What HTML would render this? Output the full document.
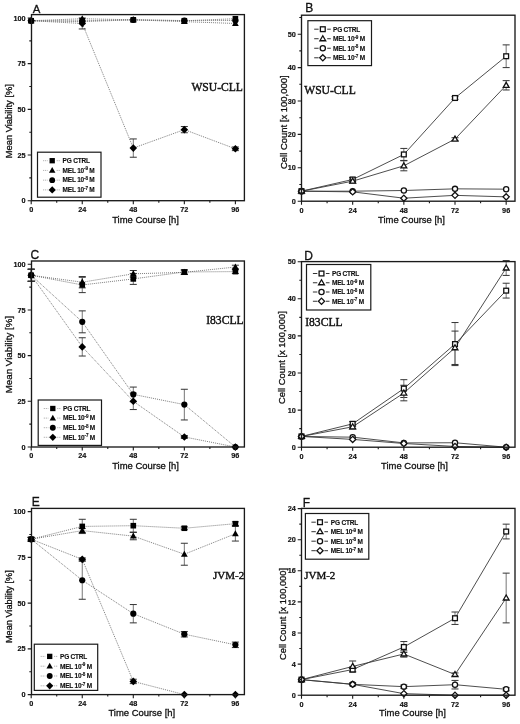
<!DOCTYPE html>
<html><head><meta charset="utf-8"><title>Figure</title>
<style>
html,body{margin:0;padding:0;background:#fff;}
body{width:520px;height:724px;overflow:hidden;font-family:"Liberation Sans",sans-serif;}
svg{display:block;will-change:transform;}
</style></head>
<body>
<svg width="520" height="724" viewBox="0 0 520 724">
<rect width="520" height="724" fill="#fff"/>
<polyline points="31.2,20.74 82.25,20.74 133.3,19.83 184.34,20.74 235.39,18.73" fill="none" stroke="#6e6e6e" stroke-width="0.9" stroke-dasharray="1 1"/>
<polyline points="31.2,20.74 82.25,18.73 133.3,19.83 184.34,21.65 235.39,23.48" fill="none" stroke="#6e6e6e" stroke-width="0.9" stroke-dasharray="1 1"/>
<polyline points="31.2,20.74 82.25,21.65 133.3,19.83 184.34,20.56 235.39,20.56" fill="none" stroke="#6e6e6e" stroke-width="0.9" stroke-dasharray="1 1"/>
<polyline points="31.2,20.74 82.25,23.48 133.3,148.08 184.34,129.63 235.39,148.81" fill="none" stroke="#6e6e6e" stroke-width="0.9" stroke-dasharray="1 1"/>
<path d="M82.25 18V28.96" stroke="#666" stroke-width="0.9" fill="none"/>
<path d="M78.75 18H85.75M78.75 28.96H85.75" stroke="#333" stroke-width="1" fill="none"/>
<path d="M133.3 138.95V157.22" stroke="#666" stroke-width="0.9" fill="none"/>
<path d="M129.8 138.95H136.8M129.8 157.22H136.8" stroke="#333" stroke-width="1" fill="none"/>
<path d="M184.34 126.52V132.74" stroke="#666" stroke-width="0.9" fill="none"/>
<path d="M180.84 126.52H187.84M180.84 132.74H187.84" stroke="#333" stroke-width="1" fill="none"/>
<path d="M235.39 146.99V150.64" stroke="#666" stroke-width="0.9" fill="none"/>
<path d="M231.89 146.99H238.89M231.89 150.64H238.89" stroke="#333" stroke-width="1" fill="none"/>
<rect x="28.4" y="17.94" width="5.6" height="5.6" fill="#000" stroke="none" stroke-width="0"/>
<rect x="79.45" y="17.94" width="5.6" height="5.6" fill="#000" stroke="none" stroke-width="0"/>
<rect x="130.5" y="17.03" width="5.6" height="5.6" fill="#000" stroke="none" stroke-width="0"/>
<rect x="181.54" y="17.94" width="5.6" height="5.6" fill="#000" stroke="none" stroke-width="0"/>
<rect x="232.59" y="15.93" width="5.6" height="5.6" fill="#000" stroke="none" stroke-width="0"/>
<polygon points="31.2,17.14 34.6,23.14 27.8,23.14" fill="#000" stroke="none" stroke-width="0" stroke-linejoin="miter"/>
<polygon points="82.25,15.13 85.65,21.13 78.85,21.13" fill="#000" stroke="none" stroke-width="0" stroke-linejoin="miter"/>
<polygon points="133.3,16.23 136.7,22.23 129.9,22.23" fill="#000" stroke="none" stroke-width="0" stroke-linejoin="miter"/>
<polygon points="184.34,18.05 187.74,24.05 180.94,24.05" fill="#000" stroke="none" stroke-width="0" stroke-linejoin="miter"/>
<polygon points="235.39,19.88 238.79,25.88 231.99,25.88" fill="#000" stroke="none" stroke-width="0" stroke-linejoin="miter"/>
<circle cx="31.2" cy="20.74" r="3.1" fill="#000" stroke="none" stroke-width="0"/>
<circle cx="82.25" cy="21.65" r="3.1" fill="#000" stroke="none" stroke-width="0"/>
<circle cx="133.3" cy="19.83" r="3.1" fill="#000" stroke="none" stroke-width="0"/>
<circle cx="184.34" cy="20.56" r="3.1" fill="#000" stroke="none" stroke-width="0"/>
<circle cx="235.39" cy="20.56" r="3.1" fill="#000" stroke="none" stroke-width="0"/>
<polygon points="31.2,16.94 35,20.74 31.2,24.54 27.4,20.74" fill="#000" stroke="none" stroke-width="0"/>
<polygon points="82.25,19.68 86.05,23.48 82.25,27.28 78.45,23.48" fill="#000" stroke="none" stroke-width="0"/>
<polygon points="133.3,144.28 137.1,148.08 133.3,151.88 129.5,148.08" fill="#000" stroke="none" stroke-width="0"/>
<polygon points="184.34,125.83 188.14,129.63 184.34,133.43 180.54,129.63" fill="#000" stroke="none" stroke-width="0"/>
<polygon points="235.39,145.01 239.19,148.81 235.39,152.61 231.59,148.81" fill="#000" stroke="none" stroke-width="0"/>
<rect x="31.5" y="14.6" width="212.9" height="186.1" fill="none" stroke="#1a1a1a" stroke-width="1.35"/>
<path d="M27.7 200.7H31.5M27.7 155.02H31.5M27.7 109.35H31.5M27.7 63.67H31.5M27.7 18H31.5M29.3 177.86H31.5M29.3 132.19H31.5M29.3 86.51H31.5M29.3 40.84H31.5M31.2 200.7V204.3M82.25 200.7V204.3M133.3 200.7V204.3M184.34 200.7V204.3M235.39 200.7V204.3M56.72 200.7V202.7M107.77 200.7V202.7M158.82 200.7V202.7M209.87 200.7V202.7" stroke="#1a1a1a" stroke-width="1.1" fill="none"/>
<text x="25.6" y="203.3" font-family="Liberation Sans, sans-serif" font-size="7.3" font-weight="bold" text-anchor="end" fill="#111" stroke="#111" stroke-width="0.15">0</text>
<text x="25.6" y="157.62" font-family="Liberation Sans, sans-serif" font-size="7.3" font-weight="bold" text-anchor="end" fill="#111" stroke="#111" stroke-width="0.15">25</text>
<text x="25.6" y="111.95" font-family="Liberation Sans, sans-serif" font-size="7.3" font-weight="bold" text-anchor="end" fill="#111" stroke="#111" stroke-width="0.15">50</text>
<text x="25.6" y="66.27" font-family="Liberation Sans, sans-serif" font-size="7.3" font-weight="bold" text-anchor="end" fill="#111" stroke="#111" stroke-width="0.15">75</text>
<text x="25.6" y="20.6" font-family="Liberation Sans, sans-serif" font-size="7.3" font-weight="bold" text-anchor="end" fill="#111" stroke="#111" stroke-width="0.15">100</text>
<text x="31.2" y="212" font-family="Liberation Sans, sans-serif" font-size="7.3" font-weight="bold" text-anchor="middle" fill="#111" stroke="#111" stroke-width="0.15">0</text>
<text x="82.25" y="212" font-family="Liberation Sans, sans-serif" font-size="7.3" font-weight="bold" text-anchor="middle" fill="#111" stroke="#111" stroke-width="0.15">24</text>
<text x="133.3" y="212" font-family="Liberation Sans, sans-serif" font-size="7.3" font-weight="bold" text-anchor="middle" fill="#111" stroke="#111" stroke-width="0.15">48</text>
<text x="184.34" y="212" font-family="Liberation Sans, sans-serif" font-size="7.3" font-weight="bold" text-anchor="middle" fill="#111" stroke="#111" stroke-width="0.15">72</text>
<text x="235.39" y="212" font-family="Liberation Sans, sans-serif" font-size="7.3" font-weight="bold" text-anchor="middle" fill="#111" stroke="#111" stroke-width="0.15">96</text>
<text x="145.6" y="222.8" font-family="Liberation Sans, sans-serif" font-size="9.45" text-anchor="middle" fill="#111" stroke="#111" stroke-width="0.3">Time Course [h]</text>
<text transform="translate(12.1 121.2) rotate(-90)" font-family="Liberation Sans, sans-serif" font-size="9.37" text-anchor="middle" fill="#111" stroke="#111" stroke-width="0.3">Mean Viability [%]</text>
<text x="32.7" y="12.6" font-family="Liberation Sans, sans-serif" font-size="11.4" fill="#111" stroke="#111" stroke-width="0.3">A</text>
<text x="191.4" y="91.2" font-family="Liberation Serif, serif" font-size="11.6" fill="#111" stroke="#111" stroke-width="0.4">WSU-CLL</text>
<rect x="37.5" y="152.2" width="63.5" height="45" fill="#fff" stroke="#1a1a1a" stroke-width="1.2"/>
<path d="M43.2 160.7H47.7M56.7 160.7H59.7" stroke="#999" stroke-width="0.9" stroke-dasharray="1 1" fill="none"/>
<rect x="49.54" y="158.04" width="5.32" height="5.32" fill="#000" stroke="none" stroke-width="0"/>
<text x="62.6" y="163" font-family="Liberation Sans, sans-serif" font-size="6.5" letter-spacing="-0.2" font-weight="bold" fill="#111" stroke="#111" stroke-width="0.12">PG CTRL</text>
<path d="M43.2 170.43H47.7M56.7 170.43H59.7" stroke="#999" stroke-width="0.9" stroke-dasharray="1 1" fill="none"/>
<polygon points="52.2,167.01 55.43,172.71 48.97,172.71" fill="#000" stroke="none" stroke-width="0" stroke-linejoin="miter"/>
<text x="62.6" y="172.73" font-family="Liberation Sans, sans-serif" font-size="6.5" letter-spacing="-0.2" font-weight="bold" fill="#111" stroke="#111" stroke-width="0.12">MEL 10<tspan font-size="4.6" dy="-2.5">-9</tspan><tspan dy="2.5"> M</tspan></text>
<path d="M43.2 180.16H47.7M56.7 180.16H59.7" stroke="#999" stroke-width="0.9" stroke-dasharray="1 1" fill="none"/>
<circle cx="52.2" cy="180.16" r="2.94" fill="#000" stroke="none" stroke-width="0"/>
<text x="62.6" y="182.46" font-family="Liberation Sans, sans-serif" font-size="6.5" letter-spacing="-0.2" font-weight="bold" fill="#111" stroke="#111" stroke-width="0.12">MEL 10<tspan font-size="4.6" dy="-2.5">-8</tspan><tspan dy="2.5"> M</tspan></text>
<path d="M43.2 189.89H47.7M56.7 189.89H59.7" stroke="#999" stroke-width="0.9" stroke-dasharray="1 1" fill="none"/>
<polygon points="52.2,186.28 55.81,189.89 52.2,193.5 48.59,189.89" fill="#000" stroke="none" stroke-width="0"/>
<text x="62.6" y="192.19" font-family="Liberation Sans, sans-serif" font-size="6.5" letter-spacing="-0.2" font-weight="bold" fill="#111" stroke="#111" stroke-width="0.12">MEL 10<tspan font-size="4.6" dy="-2.5">-7</tspan><tspan dy="2.5"> M</tspan></text>
<polyline points="301.5,191.18 352.67,179.49 403.84,154.44 455,97.99 506.17,56.24" fill="none" stroke="#3a3a3a" stroke-width="0.9"/>
<polyline points="301.5,191.18 352.67,181.16 403.84,165.8 455,139.08 506.17,85.3" fill="none" stroke="#3a3a3a" stroke-width="0.9"/>
<polyline points="301.5,191.18 352.67,191.18 403.84,190.51 455,188.84 506.17,189.18" fill="none" stroke="#3a3a3a" stroke-width="0.9"/>
<polyline points="301.5,191.18 352.67,191.85 403.84,198.19 455,195.35 506.17,196.86" fill="none" stroke="#3a3a3a" stroke-width="0.9"/>
<path d="M352.67 177.49V181.49" stroke="#666" stroke-width="0.9" fill="none"/>
<path d="M349.17 177.49H356.17M349.17 181.49H356.17" stroke="#333" stroke-width="1" fill="none"/>
<path d="M403.84 148.43V160.45" stroke="#666" stroke-width="0.9" fill="none"/>
<path d="M400.34 148.43H407.34M400.34 160.45H407.34" stroke="#333" stroke-width="1" fill="none"/>
<path d="M455 96.66V99.33" stroke="#666" stroke-width="0.9" fill="none"/>
<path d="M451.5 96.66H458.5M451.5 99.33H458.5" stroke="#333" stroke-width="1" fill="none"/>
<path d="M506.17 44.89V67.6" stroke="#666" stroke-width="0.9" fill="none"/>
<path d="M502.67 44.89H509.67M502.67 67.6H509.67" stroke="#333" stroke-width="1" fill="none"/>
<path d="M352.67 179.16V183.16" stroke="#666" stroke-width="0.9" fill="none"/>
<path d="M349.17 179.16H356.17M349.17 183.16H356.17" stroke="#333" stroke-width="1" fill="none"/>
<path d="M403.84 160.79V170.81" stroke="#666" stroke-width="0.9" fill="none"/>
<path d="M400.34 160.79H407.34M400.34 170.81H407.34" stroke="#333" stroke-width="1" fill="none"/>
<path d="M455 137.74V140.41" stroke="#666" stroke-width="0.9" fill="none"/>
<path d="M451.5 137.74H458.5M451.5 140.41H458.5" stroke="#333" stroke-width="1" fill="none"/>
<path d="M506.17 80.63V89.98" stroke="#666" stroke-width="0.9" fill="none"/>
<path d="M502.67 80.63H509.67M502.67 89.98H509.67" stroke="#333" stroke-width="1" fill="none"/>
<rect x="299.1" y="188.78" width="4.8" height="4.8" fill="#fff" stroke="#111" stroke-width="1.3"/>
<rect x="350.27" y="177.09" width="4.8" height="4.8" fill="#fff" stroke="#111" stroke-width="1.3"/>
<rect x="401.44" y="152.04" width="4.8" height="4.8" fill="#fff" stroke="#111" stroke-width="1.3"/>
<rect x="452.6" y="95.59" width="4.8" height="4.8" fill="#fff" stroke="#111" stroke-width="1.3"/>
<rect x="503.77" y="53.84" width="4.8" height="4.8" fill="#fff" stroke="#111" stroke-width="1.3"/>
<polygon points="301.5,188.18 304.4,193.18 298.6,193.18" fill="#fff" stroke="#111" stroke-width="1.3" stroke-linejoin="miter"/>
<polygon points="352.67,178.16 355.57,183.16 349.77,183.16" fill="#fff" stroke="#111" stroke-width="1.3" stroke-linejoin="miter"/>
<polygon points="403.84,162.8 406.74,167.8 400.94,167.8" fill="#fff" stroke="#111" stroke-width="1.3" stroke-linejoin="miter"/>
<polygon points="455,136.08 457.9,141.08 452.1,141.08" fill="#fff" stroke="#111" stroke-width="1.3" stroke-linejoin="miter"/>
<polygon points="506.17,82.3 509.07,87.3 503.27,87.3" fill="#fff" stroke="#111" stroke-width="1.3" stroke-linejoin="miter"/>
<circle cx="301.5" cy="191.18" r="2.6" fill="#fff" stroke="#111" stroke-width="1.3"/>
<circle cx="352.67" cy="191.18" r="2.6" fill="#fff" stroke="#111" stroke-width="1.3"/>
<circle cx="403.84" cy="190.51" r="2.6" fill="#fff" stroke="#111" stroke-width="1.3"/>
<circle cx="455" cy="188.84" r="2.6" fill="#fff" stroke="#111" stroke-width="1.3"/>
<circle cx="506.17" cy="189.18" r="2.6" fill="#fff" stroke="#111" stroke-width="1.3"/>
<polygon points="301.5,188.08 304.6,191.18 301.5,194.28 298.4,191.18" fill="#fff" stroke="#111" stroke-width="1.3"/>
<polygon points="352.67,188.75 355.77,191.85 352.67,194.95 349.57,191.85" fill="#fff" stroke="#111" stroke-width="1.3"/>
<polygon points="403.84,195.09 406.94,198.19 403.84,201.29 400.74,198.19" fill="#fff" stroke="#111" stroke-width="1.3"/>
<polygon points="455,192.25 458.1,195.35 455,198.45 451.9,195.35" fill="#fff" stroke="#111" stroke-width="1.3"/>
<polygon points="506.17,193.76 509.27,196.86 506.17,199.96 503.07,196.86" fill="#fff" stroke="#111" stroke-width="1.3"/>
<rect x="301.5" y="15.2" width="213.5" height="186" fill="none" stroke="#1a1a1a" stroke-width="1.35"/>
<path d="M297.7 201.2H301.5M297.7 167.8H301.5M297.7 134.4H301.5M297.7 101H301.5M297.7 67.6H301.5M297.7 34.2H301.5M299.3 184.5H301.5M299.3 151.1H301.5M299.3 117.7H301.5M299.3 84.3H301.5M299.3 50.9H301.5M299.3 17.5H301.5M301.5 201.2V204.8M352.67 201.2V204.8M403.84 201.2V204.8M455 201.2V204.8M506.17 201.2V204.8M327.08 201.2V203.2M378.25 201.2V203.2M429.42 201.2V203.2M480.59 201.2V203.2" stroke="#1a1a1a" stroke-width="1.1" fill="none"/>
<text x="295.9" y="203.8" font-family="Liberation Sans, sans-serif" font-size="7.3" font-weight="bold" text-anchor="end" fill="#111" stroke="#111" stroke-width="0.15">0</text>
<text x="295.9" y="170.4" font-family="Liberation Sans, sans-serif" font-size="7.3" font-weight="bold" text-anchor="end" fill="#111" stroke="#111" stroke-width="0.15">10</text>
<text x="295.9" y="137" font-family="Liberation Sans, sans-serif" font-size="7.3" font-weight="bold" text-anchor="end" fill="#111" stroke="#111" stroke-width="0.15">20</text>
<text x="295.9" y="103.6" font-family="Liberation Sans, sans-serif" font-size="7.3" font-weight="bold" text-anchor="end" fill="#111" stroke="#111" stroke-width="0.15">30</text>
<text x="295.9" y="70.2" font-family="Liberation Sans, sans-serif" font-size="7.3" font-weight="bold" text-anchor="end" fill="#111" stroke="#111" stroke-width="0.15">40</text>
<text x="295.9" y="36.8" font-family="Liberation Sans, sans-serif" font-size="7.3" font-weight="bold" text-anchor="end" fill="#111" stroke="#111" stroke-width="0.15">50</text>
<text x="301.5" y="212.5" font-family="Liberation Sans, sans-serif" font-size="7.3" font-weight="bold" text-anchor="middle" fill="#111" stroke="#111" stroke-width="0.15">0</text>
<text x="352.67" y="212.5" font-family="Liberation Sans, sans-serif" font-size="7.3" font-weight="bold" text-anchor="middle" fill="#111" stroke="#111" stroke-width="0.15">24</text>
<text x="403.84" y="212.5" font-family="Liberation Sans, sans-serif" font-size="7.3" font-weight="bold" text-anchor="middle" fill="#111" stroke="#111" stroke-width="0.15">48</text>
<text x="455" y="212.5" font-family="Liberation Sans, sans-serif" font-size="7.3" font-weight="bold" text-anchor="middle" fill="#111" stroke="#111" stroke-width="0.15">72</text>
<text x="506.17" y="212.5" font-family="Liberation Sans, sans-serif" font-size="7.3" font-weight="bold" text-anchor="middle" fill="#111" stroke="#111" stroke-width="0.15">96</text>
<text x="411.5" y="223.3" font-family="Liberation Sans, sans-serif" font-size="9.45" text-anchor="middle" fill="#111" stroke="#111" stroke-width="0.3">Time Course [h]</text>
<text transform="translate(286.9 122.2) rotate(-90)" font-family="Liberation Sans, sans-serif" font-size="9.48" text-anchor="middle" fill="#111" stroke="#111" stroke-width="0.3">Cell Count [x 100,000]</text>
<text x="305.3" y="12.3" font-family="Liberation Sans, sans-serif" font-size="12" fill="#111" stroke="#111" stroke-width="0.3">B</text>
<text x="304.2" y="94" font-family="Liberation Serif, serif" font-size="11.6" fill="#111" stroke="#111" stroke-width="0.4">WSU-CLL</text>
<rect x="307.9" y="20.7" width="63.6" height="44.9" fill="#fff" stroke="#1a1a1a" stroke-width="1.2"/>
<path d="M314.2 29.2H318.6M327.2 29.2H330.8" stroke="#333" stroke-width="1" fill="none"/>
<rect x="320.4" y="26.8" width="4.8" height="4.8" fill="#fff" stroke="#111" stroke-width="1.3"/>
<text x="333" y="31.5" font-family="Liberation Sans, sans-serif" font-size="6.5" letter-spacing="-0.2" font-weight="bold" fill="#111" stroke="#111" stroke-width="0.12">PG CTRL</text>
<path d="M314.2 38.73H318.6M327.2 38.73H330.8" stroke="#333" stroke-width="1" fill="none"/>
<polygon points="322.8,35.73 325.7,40.73 319.9,40.73" fill="#fff" stroke="#111" stroke-width="1.3" stroke-linejoin="miter"/>
<text x="333" y="41.03" font-family="Liberation Sans, sans-serif" font-size="6.5" letter-spacing="-0.2" font-weight="bold" fill="#111" stroke="#111" stroke-width="0.12">MEL 10<tspan font-size="4.6" dy="-2.5">-9</tspan><tspan dy="2.5"> M</tspan></text>
<path d="M314.2 48.26H318.6M327.2 48.26H330.8" stroke="#333" stroke-width="1" fill="none"/>
<circle cx="322.8" cy="48.26" r="2.6" fill="#fff" stroke="#111" stroke-width="1.3"/>
<text x="333" y="50.56" font-family="Liberation Sans, sans-serif" font-size="6.5" letter-spacing="-0.2" font-weight="bold" fill="#111" stroke="#111" stroke-width="0.12">MEL 10<tspan font-size="4.6" dy="-2.5">-8</tspan><tspan dy="2.5"> M</tspan></text>
<path d="M314.2 57.79H318.6M327.2 57.79H330.8" stroke="#333" stroke-width="1" fill="none"/>
<polygon points="322.8,54.69 325.9,57.79 322.8,60.89 319.7,57.79" fill="#fff" stroke="#111" stroke-width="1.3"/>
<text x="333" y="60.09" font-family="Liberation Sans, sans-serif" font-size="6.5" letter-spacing="-0.2" font-weight="bold" fill="#111" stroke="#111" stroke-width="0.12">MEL 10<tspan font-size="4.6" dy="-2.5">-7</tspan><tspan dy="2.5"> M</tspan></text>
<polyline points="31.2,275.26 82.25,284.95 133.3,278.92 184.34,271.97 235.39,271.61" fill="none" stroke="#6e6e6e" stroke-width="0.9" stroke-dasharray="1 1"/>
<polyline points="31.2,275.26 82.25,282.2 133.3,273.8 184.34,272.34 235.39,267.04" fill="none" stroke="#6e6e6e" stroke-width="0.9" stroke-dasharray="1 1"/>
<polyline points="31.2,275.26 82.25,321.85 133.3,394.38 184.34,404.61 235.39,447" fill="none" stroke="#6e6e6e" stroke-width="0.9" stroke-dasharray="1 1"/>
<polyline points="31.2,275.26 82.25,346.88 133.3,401.32 184.34,436.95 235.39,447" fill="none" stroke="#6e6e6e" stroke-width="0.9" stroke-dasharray="1 1"/>
<path d="M31.2 269.23V281.29" stroke="#666" stroke-width="0.9" fill="none"/>
<path d="M27.7 269.23H34.7M27.7 281.29H34.7" stroke="#333" stroke-width="1" fill="none"/>
<path d="M82.25 277.27V292.62" stroke="#666" stroke-width="0.9" fill="none"/>
<path d="M78.75 277.27H85.75M78.75 292.62H85.75" stroke="#333" stroke-width="1" fill="none"/>
<path d="M133.3 273.44V284.4" stroke="#666" stroke-width="0.9" fill="none"/>
<path d="M129.8 273.44H136.8M129.8 284.4H136.8" stroke="#333" stroke-width="1" fill="none"/>
<path d="M184.34 269.78V274.17" stroke="#666" stroke-width="0.9" fill="none"/>
<path d="M180.84 269.78H187.84M180.84 274.17H187.84" stroke="#333" stroke-width="1" fill="none"/>
<path d="M235.39 269.78V273.44" stroke="#666" stroke-width="0.9" fill="none"/>
<path d="M231.89 269.78H238.89M231.89 273.44H238.89" stroke="#333" stroke-width="1" fill="none"/>
<path d="M31.2 269.23V281.29" stroke="#666" stroke-width="0.9" fill="none"/>
<path d="M27.7 269.23H34.7M27.7 281.29H34.7" stroke="#333" stroke-width="1" fill="none"/>
<path d="M82.25 276.54V287.87" stroke="#666" stroke-width="0.9" fill="none"/>
<path d="M78.75 276.54H85.75M78.75 287.87H85.75" stroke="#333" stroke-width="1" fill="none"/>
<path d="M133.3 270.51V277.09" stroke="#666" stroke-width="0.9" fill="none"/>
<path d="M129.8 270.51H136.8M129.8 277.09H136.8" stroke="#333" stroke-width="1" fill="none"/>
<path d="M184.34 270.15V274.53" stroke="#666" stroke-width="0.9" fill="none"/>
<path d="M180.84 270.15H187.84M180.84 274.53H187.84" stroke="#333" stroke-width="1" fill="none"/>
<path d="M235.39 265.21V268.87" stroke="#666" stroke-width="0.9" fill="none"/>
<path d="M231.89 265.21H238.89M231.89 268.87H238.89" stroke="#333" stroke-width="1" fill="none"/>
<path d="M31.2 269.23V281.29" stroke="#666" stroke-width="0.9" fill="none"/>
<path d="M27.7 269.23H34.7M27.7 281.29H34.7" stroke="#333" stroke-width="1" fill="none"/>
<path d="M82.25 310.89V332.81" stroke="#666" stroke-width="0.9" fill="none"/>
<path d="M78.75 310.89H85.75M78.75 332.81H85.75" stroke="#333" stroke-width="1" fill="none"/>
<path d="M133.3 387.07V401.69" stroke="#666" stroke-width="0.9" fill="none"/>
<path d="M129.8 387.07H136.8M129.8 401.69H136.8" stroke="#333" stroke-width="1" fill="none"/>
<path d="M184.34 389.27V419.96" stroke="#666" stroke-width="0.9" fill="none"/>
<path d="M180.84 389.27H187.84M180.84 419.96H187.84" stroke="#333" stroke-width="1" fill="none"/>
<path d="M31.2 269.23V281.29" stroke="#666" stroke-width="0.9" fill="none"/>
<path d="M27.7 269.23H34.7M27.7 281.29H34.7" stroke="#333" stroke-width="1" fill="none"/>
<path d="M82.25 337.75V356.02" stroke="#666" stroke-width="0.9" fill="none"/>
<path d="M78.75 337.75H85.75M78.75 356.02H85.75" stroke="#333" stroke-width="1" fill="none"/>
<path d="M133.3 393.1V409.55" stroke="#666" stroke-width="0.9" fill="none"/>
<path d="M129.8 393.1H136.8M129.8 409.55H136.8" stroke="#333" stroke-width="1" fill="none"/>
<path d="M184.34 435.49V438.41" stroke="#666" stroke-width="0.9" fill="none"/>
<path d="M180.84 435.49H187.84M180.84 438.41H187.84" stroke="#333" stroke-width="1" fill="none"/>
<rect x="28.4" y="272.46" width="5.6" height="5.6" fill="#000" stroke="none" stroke-width="0"/>
<rect x="79.45" y="282.15" width="5.6" height="5.6" fill="#000" stroke="none" stroke-width="0"/>
<rect x="130.5" y="276.12" width="5.6" height="5.6" fill="#000" stroke="none" stroke-width="0"/>
<rect x="181.54" y="269.17" width="5.6" height="5.6" fill="#000" stroke="none" stroke-width="0"/>
<rect x="232.59" y="268.81" width="5.6" height="5.6" fill="#000" stroke="none" stroke-width="0"/>
<polygon points="31.2,271.66 34.6,277.66 27.8,277.66" fill="#000" stroke="none" stroke-width="0" stroke-linejoin="miter"/>
<polygon points="82.25,278.6 85.65,284.6 78.85,284.6" fill="#000" stroke="none" stroke-width="0" stroke-linejoin="miter"/>
<polygon points="133.3,270.2 136.7,276.2 129.9,276.2" fill="#000" stroke="none" stroke-width="0" stroke-linejoin="miter"/>
<polygon points="184.34,268.74 187.74,274.74 180.94,274.74" fill="#000" stroke="none" stroke-width="0" stroke-linejoin="miter"/>
<polygon points="235.39,263.44 238.79,269.44 231.99,269.44" fill="#000" stroke="none" stroke-width="0" stroke-linejoin="miter"/>
<circle cx="31.2" cy="275.26" r="3.1" fill="#000" stroke="none" stroke-width="0"/>
<circle cx="82.25" cy="321.85" r="3.1" fill="#000" stroke="none" stroke-width="0"/>
<circle cx="133.3" cy="394.38" r="3.1" fill="#000" stroke="none" stroke-width="0"/>
<circle cx="184.34" cy="404.61" r="3.1" fill="#000" stroke="none" stroke-width="0"/>
<circle cx="235.39" cy="447" r="3.1" fill="#000" stroke="none" stroke-width="0"/>
<polygon points="31.2,271.46 35,275.26 31.2,279.06 27.4,275.26" fill="#000" stroke="none" stroke-width="0"/>
<polygon points="82.25,343.08 86.05,346.88 82.25,350.68 78.45,346.88" fill="#000" stroke="none" stroke-width="0"/>
<polygon points="133.3,397.52 137.1,401.32 133.3,405.12 129.5,401.32" fill="#000" stroke="none" stroke-width="0"/>
<polygon points="184.34,433.15 188.14,436.95 184.34,440.75 180.54,436.95" fill="#000" stroke="none" stroke-width="0"/>
<polygon points="235.39,443.2 239.19,447 235.39,450.8 231.59,447" fill="#000" stroke="none" stroke-width="0"/>
<rect x="31.5" y="261" width="212.9" height="186" fill="none" stroke="#1a1a1a" stroke-width="1.35"/>
<path d="M27.7 447H31.5M27.7 401.32H31.5M27.7 355.65H31.5M27.7 309.98H31.5M27.7 264.3H31.5M29.3 424.16H31.5M29.3 378.49H31.5M29.3 332.81H31.5M29.3 287.14H31.5M31.2 447V450.6M82.25 447V450.6M133.3 447V450.6M184.34 447V450.6M235.39 447V450.6M56.72 447V449M107.77 447V449M158.82 447V449M209.87 447V449" stroke="#1a1a1a" stroke-width="1.1" fill="none"/>
<text x="25.6" y="449.6" font-family="Liberation Sans, sans-serif" font-size="7.3" font-weight="bold" text-anchor="end" fill="#111" stroke="#111" stroke-width="0.15">0</text>
<text x="25.6" y="403.93" font-family="Liberation Sans, sans-serif" font-size="7.3" font-weight="bold" text-anchor="end" fill="#111" stroke="#111" stroke-width="0.15">25</text>
<text x="25.6" y="358.25" font-family="Liberation Sans, sans-serif" font-size="7.3" font-weight="bold" text-anchor="end" fill="#111" stroke="#111" stroke-width="0.15">50</text>
<text x="25.6" y="312.58" font-family="Liberation Sans, sans-serif" font-size="7.3" font-weight="bold" text-anchor="end" fill="#111" stroke="#111" stroke-width="0.15">75</text>
<text x="25.6" y="266.9" font-family="Liberation Sans, sans-serif" font-size="7.3" font-weight="bold" text-anchor="end" fill="#111" stroke="#111" stroke-width="0.15">100</text>
<text x="31.2" y="458.3" font-family="Liberation Sans, sans-serif" font-size="7.3" font-weight="bold" text-anchor="middle" fill="#111" stroke="#111" stroke-width="0.15">0</text>
<text x="82.25" y="458.3" font-family="Liberation Sans, sans-serif" font-size="7.3" font-weight="bold" text-anchor="middle" fill="#111" stroke="#111" stroke-width="0.15">24</text>
<text x="133.3" y="458.3" font-family="Liberation Sans, sans-serif" font-size="7.3" font-weight="bold" text-anchor="middle" fill="#111" stroke="#111" stroke-width="0.15">48</text>
<text x="184.34" y="458.3" font-family="Liberation Sans, sans-serif" font-size="7.3" font-weight="bold" text-anchor="middle" fill="#111" stroke="#111" stroke-width="0.15">72</text>
<text x="235.39" y="458.3" font-family="Liberation Sans, sans-serif" font-size="7.3" font-weight="bold" text-anchor="middle" fill="#111" stroke="#111" stroke-width="0.15">96</text>
<text x="145.6" y="469.1" font-family="Liberation Sans, sans-serif" font-size="9.45" text-anchor="middle" fill="#111" stroke="#111" stroke-width="0.3">Time Course [h]</text>
<text transform="translate(11.5 354.6) rotate(-90)" font-family="Liberation Sans, sans-serif" font-size="9.75" text-anchor="middle" fill="#111" stroke="#111" stroke-width="0.3">Mean Viability [%]</text>
<text x="30.6" y="258.5" font-family="Liberation Sans, sans-serif" font-size="12" fill="#111" stroke="#111" stroke-width="0.3">C</text>
<text x="206.2" y="324" font-family="Liberation Serif, serif" font-size="11.6" fill="#111" stroke="#111" stroke-width="0.4">I83CLL</text>
<rect x="38.2" y="400" width="63.3" height="45.4" fill="#fff" stroke="#1a1a1a" stroke-width="1.2"/>
<path d="M43.8 408.5H48.3M57.3 408.5H60.3" stroke="#999" stroke-width="0.9" stroke-dasharray="1 1" fill="none"/>
<rect x="50.14" y="405.84" width="5.32" height="5.32" fill="#000" stroke="none" stroke-width="0"/>
<text x="63.1" y="410.8" font-family="Liberation Sans, sans-serif" font-size="6.5" letter-spacing="-0.2" font-weight="bold" fill="#111" stroke="#111" stroke-width="0.12">PG CTRL</text>
<path d="M43.8 418.1H48.3M57.3 418.1H60.3" stroke="#999" stroke-width="0.9" stroke-dasharray="1 1" fill="none"/>
<polygon points="52.8,414.68 56.03,420.38 49.57,420.38" fill="#000" stroke="none" stroke-width="0" stroke-linejoin="miter"/>
<text x="63.1" y="420.4" font-family="Liberation Sans, sans-serif" font-size="6.5" letter-spacing="-0.2" font-weight="bold" fill="#111" stroke="#111" stroke-width="0.12">MEL 10<tspan font-size="4.6" dy="-2.5">-9</tspan><tspan dy="2.5"> M</tspan></text>
<path d="M43.8 427.7H48.3M57.3 427.7H60.3" stroke="#999" stroke-width="0.9" stroke-dasharray="1 1" fill="none"/>
<circle cx="52.8" cy="427.7" r="2.94" fill="#000" stroke="none" stroke-width="0"/>
<text x="63.1" y="430" font-family="Liberation Sans, sans-serif" font-size="6.5" letter-spacing="-0.2" font-weight="bold" fill="#111" stroke="#111" stroke-width="0.12">MEL 10<tspan font-size="4.6" dy="-2.5">-8</tspan><tspan dy="2.5"> M</tspan></text>
<path d="M43.8 437.3H48.3M57.3 437.3H60.3" stroke="#999" stroke-width="0.9" stroke-dasharray="1 1" fill="none"/>
<polygon points="52.8,433.69 56.41,437.3 52.8,440.91 49.19,437.3" fill="#000" stroke="none" stroke-width="0"/>
<text x="63.1" y="439.6" font-family="Liberation Sans, sans-serif" font-size="6.5" letter-spacing="-0.2" font-weight="bold" fill="#111" stroke="#111" stroke-width="0.12">MEL 10<tspan font-size="4.6" dy="-2.5">-7</tspan><tspan dy="2.5"> M</tspan></text>
<polyline points="301.5,436.44 352.67,423.83 403.84,388.58 455,344.06 506.17,290.64" fill="none" stroke="#3a3a3a" stroke-width="0.9"/>
<polyline points="301.5,436.44 352.67,426.79 403.84,393.03 455,347.77 506.17,268.01" fill="none" stroke="#3a3a3a" stroke-width="0.9"/>
<polyline points="301.5,436.44 352.67,437.18 403.84,442.9 455,442.75 506.17,447.2" fill="none" stroke="#3a3a3a" stroke-width="0.9"/>
<polyline points="301.5,436.44 352.67,439.41 403.84,443.49 455,446.46 506.17,447.2" fill="none" stroke="#3a3a3a" stroke-width="0.9"/>
<path d="M352.67 421.6V426.05" stroke="#666" stroke-width="0.9" fill="none"/>
<path d="M349.17 421.6H356.17M349.17 426.05H356.17" stroke="#333" stroke-width="1" fill="none"/>
<path d="M403.84 379.68V397.49" stroke="#666" stroke-width="0.9" fill="none"/>
<path d="M400.34 379.68H407.34M400.34 397.49H407.34" stroke="#333" stroke-width="1" fill="none"/>
<path d="M455 322.54V365.58" stroke="#666" stroke-width="0.9" fill="none"/>
<path d="M451.5 322.54H458.5M451.5 365.58H458.5" stroke="#333" stroke-width="1" fill="none"/>
<path d="M506.17 283.22V298.06" stroke="#666" stroke-width="0.9" fill="none"/>
<path d="M502.67 283.22H509.67M502.67 298.06H509.67" stroke="#333" stroke-width="1" fill="none"/>
<path d="M352.67 424.57V429.02" stroke="#666" stroke-width="0.9" fill="none"/>
<path d="M349.17 424.57H356.17M349.17 429.02H356.17" stroke="#333" stroke-width="1" fill="none"/>
<path d="M403.84 385.24V400.82" stroke="#666" stroke-width="0.9" fill="none"/>
<path d="M400.34 385.24H407.34M400.34 400.82H407.34" stroke="#333" stroke-width="1" fill="none"/>
<path d="M455 331.08V364.47" stroke="#666" stroke-width="0.9" fill="none"/>
<path d="M451.5 331.08H458.5M451.5 364.47H458.5" stroke="#333" stroke-width="1" fill="none"/>
<path d="M506.17 260.59V275.43" stroke="#666" stroke-width="0.9" fill="none"/>
<path d="M502.67 260.59H509.67M502.67 275.43H509.67" stroke="#333" stroke-width="1" fill="none"/>
<rect x="299.1" y="434.04" width="4.8" height="4.8" fill="#fff" stroke="#111" stroke-width="1.3"/>
<rect x="350.27" y="421.43" width="4.8" height="4.8" fill="#fff" stroke="#111" stroke-width="1.3"/>
<rect x="401.44" y="386.18" width="4.8" height="4.8" fill="#fff" stroke="#111" stroke-width="1.3"/>
<rect x="452.6" y="341.66" width="4.8" height="4.8" fill="#fff" stroke="#111" stroke-width="1.3"/>
<rect x="503.77" y="288.24" width="4.8" height="4.8" fill="#fff" stroke="#111" stroke-width="1.3"/>
<polygon points="301.5,433.44 304.4,438.44 298.6,438.44" fill="#fff" stroke="#111" stroke-width="1.3" stroke-linejoin="miter"/>
<polygon points="352.67,423.79 355.57,428.79 349.77,428.79" fill="#fff" stroke="#111" stroke-width="1.3" stroke-linejoin="miter"/>
<polygon points="403.84,390.03 406.74,395.03 400.94,395.03" fill="#fff" stroke="#111" stroke-width="1.3" stroke-linejoin="miter"/>
<polygon points="455,344.77 457.9,349.77 452.1,349.77" fill="#fff" stroke="#111" stroke-width="1.3" stroke-linejoin="miter"/>
<polygon points="506.17,265.01 509.07,270.01 503.27,270.01" fill="#fff" stroke="#111" stroke-width="1.3" stroke-linejoin="miter"/>
<circle cx="301.5" cy="436.44" r="2.6" fill="#fff" stroke="#111" stroke-width="1.3"/>
<circle cx="352.67" cy="437.18" r="2.6" fill="#fff" stroke="#111" stroke-width="1.3"/>
<circle cx="403.84" cy="442.9" r="2.6" fill="#fff" stroke="#111" stroke-width="1.3"/>
<circle cx="455" cy="442.75" r="2.6" fill="#fff" stroke="#111" stroke-width="1.3"/>
<circle cx="506.17" cy="447.2" r="2.6" fill="#fff" stroke="#111" stroke-width="1.3"/>
<polygon points="301.5,433.34 304.6,436.44 301.5,439.54 298.4,436.44" fill="#fff" stroke="#111" stroke-width="1.3"/>
<polygon points="352.67,436.31 355.77,439.41 352.67,442.51 349.57,439.41" fill="#fff" stroke="#111" stroke-width="1.3"/>
<polygon points="403.84,440.39 406.94,443.49 403.84,446.59 400.74,443.49" fill="#fff" stroke="#111" stroke-width="1.3"/>
<polygon points="455,443.36 458.1,446.46 455,449.56 451.9,446.46" fill="#fff" stroke="#111" stroke-width="1.3"/>
<polygon points="506.17,444.1 509.27,447.2 506.17,450.3 503.07,447.2" fill="#fff" stroke="#111" stroke-width="1.3"/>
<rect x="301.5" y="261.6" width="213.5" height="185.6" fill="none" stroke="#1a1a1a" stroke-width="1.35"/>
<path d="M297.7 447.2H301.5M297.7 410.1H301.5M297.7 373H301.5M297.7 335.9H301.5M297.7 298.8H301.5M297.7 261.7H301.5M299.3 428.65H301.5M299.3 391.55H301.5M299.3 354.45H301.5M299.3 317.35H301.5M299.3 280.25H301.5M301.5 447.2V450.8M352.67 447.2V450.8M403.84 447.2V450.8M455 447.2V450.8M506.17 447.2V450.8M327.08 447.2V449.2M378.25 447.2V449.2M429.42 447.2V449.2M480.59 447.2V449.2" stroke="#1a1a1a" stroke-width="1.1" fill="none"/>
<text x="295.9" y="449.8" font-family="Liberation Sans, sans-serif" font-size="7.3" font-weight="bold" text-anchor="end" fill="#111" stroke="#111" stroke-width="0.15">0</text>
<text x="295.9" y="412.7" font-family="Liberation Sans, sans-serif" font-size="7.3" font-weight="bold" text-anchor="end" fill="#111" stroke="#111" stroke-width="0.15">10</text>
<text x="295.9" y="375.6" font-family="Liberation Sans, sans-serif" font-size="7.3" font-weight="bold" text-anchor="end" fill="#111" stroke="#111" stroke-width="0.15">20</text>
<text x="295.9" y="338.5" font-family="Liberation Sans, sans-serif" font-size="7.3" font-weight="bold" text-anchor="end" fill="#111" stroke="#111" stroke-width="0.15">30</text>
<text x="295.9" y="301.4" font-family="Liberation Sans, sans-serif" font-size="7.3" font-weight="bold" text-anchor="end" fill="#111" stroke="#111" stroke-width="0.15">40</text>
<text x="295.9" y="264.3" font-family="Liberation Sans, sans-serif" font-size="7.3" font-weight="bold" text-anchor="end" fill="#111" stroke="#111" stroke-width="0.15">50</text>
<text x="301.5" y="458.5" font-family="Liberation Sans, sans-serif" font-size="7.3" font-weight="bold" text-anchor="middle" fill="#111" stroke="#111" stroke-width="0.15">0</text>
<text x="352.67" y="458.5" font-family="Liberation Sans, sans-serif" font-size="7.3" font-weight="bold" text-anchor="middle" fill="#111" stroke="#111" stroke-width="0.15">24</text>
<text x="403.84" y="458.5" font-family="Liberation Sans, sans-serif" font-size="7.3" font-weight="bold" text-anchor="middle" fill="#111" stroke="#111" stroke-width="0.15">48</text>
<text x="455" y="458.5" font-family="Liberation Sans, sans-serif" font-size="7.3" font-weight="bold" text-anchor="middle" fill="#111" stroke="#111" stroke-width="0.15">72</text>
<text x="506.17" y="458.5" font-family="Liberation Sans, sans-serif" font-size="7.3" font-weight="bold" text-anchor="middle" fill="#111" stroke="#111" stroke-width="0.15">96</text>
<text x="414.5" y="468.5" font-family="Liberation Sans, sans-serif" font-size="9.45" text-anchor="middle" fill="#111" stroke="#111" stroke-width="0.3">Time Course [h]</text>
<text transform="translate(284.7 357.6) rotate(-90)" font-family="Liberation Sans, sans-serif" font-size="9.38" text-anchor="middle" fill="#111" stroke="#111" stroke-width="0.3">Cell Count [x 100,000]</text>
<text x="304.3" y="260.3" font-family="Liberation Sans, sans-serif" font-size="12" fill="#111" stroke="#111" stroke-width="0.3">D</text>
<text x="305.2" y="326" font-family="Liberation Serif, serif" font-size="11.6" fill="#111" stroke="#111" stroke-width="0.4">I83CLL</text>
<rect x="306.5" y="264.5" width="64.3" height="45.5" fill="#fff" stroke="#1a1a1a" stroke-width="1.2"/>
<path d="M312.9 273.5H317.3M325.9 273.5H329.5" stroke="#333" stroke-width="1" fill="none"/>
<rect x="319.1" y="271.1" width="4.8" height="4.8" fill="#fff" stroke="#111" stroke-width="1.3"/>
<text x="332" y="275.8" font-family="Liberation Sans, sans-serif" font-size="6.5" letter-spacing="-0.2" font-weight="bold" fill="#111" stroke="#111" stroke-width="0.12">PG CTRL</text>
<path d="M312.9 282.75H317.3M325.9 282.75H329.5" stroke="#333" stroke-width="1" fill="none"/>
<polygon points="321.5,279.75 324.4,284.75 318.6,284.75" fill="#fff" stroke="#111" stroke-width="1.3" stroke-linejoin="miter"/>
<text x="332" y="285.05" font-family="Liberation Sans, sans-serif" font-size="6.5" letter-spacing="-0.2" font-weight="bold" fill="#111" stroke="#111" stroke-width="0.12">MEL 10<tspan font-size="4.6" dy="-2.5">-9</tspan><tspan dy="2.5"> M</tspan></text>
<path d="M312.9 292H317.3M325.9 292H329.5" stroke="#333" stroke-width="1" fill="none"/>
<circle cx="321.5" cy="292" r="2.6" fill="#fff" stroke="#111" stroke-width="1.3"/>
<text x="332" y="294.3" font-family="Liberation Sans, sans-serif" font-size="6.5" letter-spacing="-0.2" font-weight="bold" fill="#111" stroke="#111" stroke-width="0.12">MEL 10<tspan font-size="4.6" dy="-2.5">-8</tspan><tspan dy="2.5"> M</tspan></text>
<path d="M312.9 301.25H317.3M325.9 301.25H329.5" stroke="#333" stroke-width="1" fill="none"/>
<polygon points="321.5,298.15 324.6,301.25 321.5,304.35 318.4,301.25" fill="#fff" stroke="#111" stroke-width="1.3"/>
<text x="332" y="303.55" font-family="Liberation Sans, sans-serif" font-size="6.5" letter-spacing="-0.2" font-weight="bold" fill="#111" stroke="#111" stroke-width="0.12">MEL 10<tspan font-size="4.6" dy="-2.5">-7</tspan><tspan dy="2.5"> M</tspan></text>
<polyline points="31.2,539.23 82.25,526.42 133.3,525.69 184.34,528.25 235.39,523.68" fill="none" stroke="#6e6e6e" stroke-width="0.9" stroke-dasharray="1 1"/>
<polyline points="31.2,539.23 82.25,530.63 133.3,536.12 184.34,554.24 235.39,533.74" fill="none" stroke="#6e6e6e" stroke-width="0.9" stroke-dasharray="1 1"/>
<polyline points="31.2,539.23 82.25,580.23 133.3,613.71 184.34,634.21 235.39,644.82" fill="none" stroke="#6e6e6e" stroke-width="0.9" stroke-dasharray="1 1"/>
<polyline points="31.2,539.23 82.25,559.36 133.3,681.42 184.34,694.6 235.39,694.6" fill="none" stroke="#6e6e6e" stroke-width="0.9" stroke-dasharray="1 1"/>
<path d="M31.2 537.4V541.06" stroke="#666" stroke-width="0.9" fill="none"/>
<path d="M27.7 537.4H34.7M27.7 541.06H34.7" stroke="#333" stroke-width="1" fill="none"/>
<path d="M82.25 519.29V533.56" stroke="#666" stroke-width="0.9" fill="none"/>
<path d="M78.75 519.29H85.75M78.75 533.56H85.75" stroke="#333" stroke-width="1" fill="none"/>
<path d="M133.3 519.29V532.1" stroke="#666" stroke-width="0.9" fill="none"/>
<path d="M129.8 519.29H136.8M129.8 532.1H136.8" stroke="#333" stroke-width="1" fill="none"/>
<path d="M184.34 526.79V529.72" stroke="#666" stroke-width="0.9" fill="none"/>
<path d="M180.84 526.79H187.84M180.84 529.72H187.84" stroke="#333" stroke-width="1" fill="none"/>
<path d="M235.39 521.85V525.51" stroke="#666" stroke-width="0.9" fill="none"/>
<path d="M231.89 521.85H238.89M231.89 525.51H238.89" stroke="#333" stroke-width="1" fill="none"/>
<path d="M31.2 537.4V541.06" stroke="#666" stroke-width="0.9" fill="none"/>
<path d="M27.7 537.4H34.7M27.7 541.06H34.7" stroke="#333" stroke-width="1" fill="none"/>
<path d="M82.25 528.44V532.83" stroke="#666" stroke-width="0.9" fill="none"/>
<path d="M78.75 528.44H85.75M78.75 532.83H85.75" stroke="#333" stroke-width="1" fill="none"/>
<path d="M133.3 532.46V539.78" stroke="#666" stroke-width="0.9" fill="none"/>
<path d="M129.8 532.46H136.8M129.8 539.78H136.8" stroke="#333" stroke-width="1" fill="none"/>
<path d="M184.34 543.26V565.22" stroke="#666" stroke-width="0.9" fill="none"/>
<path d="M180.84 543.26H187.84M180.84 565.22H187.84" stroke="#333" stroke-width="1" fill="none"/>
<path d="M235.39 526.42V541.06" stroke="#666" stroke-width="0.9" fill="none"/>
<path d="M231.89 526.42H238.89M231.89 541.06H238.89" stroke="#333" stroke-width="1" fill="none"/>
<path d="M31.2 537.4V541.06" stroke="#666" stroke-width="0.9" fill="none"/>
<path d="M27.7 537.4H34.7M27.7 541.06H34.7" stroke="#333" stroke-width="1" fill="none"/>
<path d="M82.25 561.19V599.26" stroke="#666" stroke-width="0.9" fill="none"/>
<path d="M78.75 561.19H85.75M78.75 599.26H85.75" stroke="#333" stroke-width="1" fill="none"/>
<path d="M133.3 604.56V622.86" stroke="#666" stroke-width="0.9" fill="none"/>
<path d="M129.8 604.56H136.8M129.8 622.86H136.8" stroke="#333" stroke-width="1" fill="none"/>
<path d="M184.34 631.47V636.96" stroke="#666" stroke-width="0.9" fill="none"/>
<path d="M180.84 631.47H187.84M180.84 636.96H187.84" stroke="#333" stroke-width="1" fill="none"/>
<path d="M235.39 642.08V647.57" stroke="#666" stroke-width="0.9" fill="none"/>
<path d="M231.89 642.08H238.89M231.89 647.57H238.89" stroke="#333" stroke-width="1" fill="none"/>
<path d="M31.2 537.4V541.06" stroke="#666" stroke-width="0.9" fill="none"/>
<path d="M27.7 537.4H34.7M27.7 541.06H34.7" stroke="#333" stroke-width="1" fill="none"/>
<path d="M82.25 557.9V560.83" stroke="#666" stroke-width="0.9" fill="none"/>
<path d="M78.75 557.9H85.75M78.75 560.83H85.75" stroke="#333" stroke-width="1" fill="none"/>
<path d="M133.3 679.23V683.62" stroke="#666" stroke-width="0.9" fill="none"/>
<path d="M129.8 679.23H136.8M129.8 683.62H136.8" stroke="#333" stroke-width="1" fill="none"/>
<rect x="28.4" y="536.43" width="5.6" height="5.6" fill="#000" stroke="none" stroke-width="0"/>
<rect x="79.45" y="523.62" width="5.6" height="5.6" fill="#000" stroke="none" stroke-width="0"/>
<rect x="130.5" y="522.89" width="5.6" height="5.6" fill="#000" stroke="none" stroke-width="0"/>
<rect x="181.54" y="525.45" width="5.6" height="5.6" fill="#000" stroke="none" stroke-width="0"/>
<rect x="232.59" y="520.88" width="5.6" height="5.6" fill="#000" stroke="none" stroke-width="0"/>
<polygon points="31.2,535.63 34.6,541.63 27.8,541.63" fill="#000" stroke="none" stroke-width="0" stroke-linejoin="miter"/>
<polygon points="82.25,527.03 85.65,533.03 78.85,533.03" fill="#000" stroke="none" stroke-width="0" stroke-linejoin="miter"/>
<polygon points="133.3,532.52 136.7,538.52 129.9,538.52" fill="#000" stroke="none" stroke-width="0" stroke-linejoin="miter"/>
<polygon points="184.34,550.64 187.74,556.64 180.94,556.64" fill="#000" stroke="none" stroke-width="0" stroke-linejoin="miter"/>
<polygon points="235.39,530.14 238.79,536.14 231.99,536.14" fill="#000" stroke="none" stroke-width="0" stroke-linejoin="miter"/>
<circle cx="31.2" cy="539.23" r="3.1" fill="#000" stroke="none" stroke-width="0"/>
<circle cx="82.25" cy="580.23" r="3.1" fill="#000" stroke="none" stroke-width="0"/>
<circle cx="133.3" cy="613.71" r="3.1" fill="#000" stroke="none" stroke-width="0"/>
<circle cx="184.34" cy="634.21" r="3.1" fill="#000" stroke="none" stroke-width="0"/>
<circle cx="235.39" cy="644.82" r="3.1" fill="#000" stroke="none" stroke-width="0"/>
<polygon points="31.2,535.43 35,539.23 31.2,543.03 27.4,539.23" fill="#000" stroke="none" stroke-width="0"/>
<polygon points="82.25,555.56 86.05,559.36 82.25,563.16 78.45,559.36" fill="#000" stroke="none" stroke-width="0"/>
<polygon points="133.3,677.62 137.1,681.42 133.3,685.22 129.5,681.42" fill="#000" stroke="none" stroke-width="0"/>
<polygon points="184.34,690.8 188.14,694.6 184.34,698.4 180.54,694.6" fill="#000" stroke="none" stroke-width="0"/>
<polygon points="235.39,690.8 239.19,694.6 235.39,698.4 231.59,694.6" fill="#000" stroke="none" stroke-width="0"/>
<rect x="31.5" y="508.4" width="212.9" height="186.2" fill="none" stroke="#1a1a1a" stroke-width="1.35"/>
<path d="M27.7 694.6H31.5M27.7 648.85H31.5M27.7 603.1H31.5M27.7 557.35H31.5M27.7 511.6H31.5M29.3 671.73H31.5M29.3 625.98H31.5M29.3 580.23H31.5M29.3 534.48H31.5M31.2 694.6V698.2M82.25 694.6V698.2M133.3 694.6V698.2M184.34 694.6V698.2M235.39 694.6V698.2M56.72 694.6V696.6M107.77 694.6V696.6M158.82 694.6V696.6M209.87 694.6V696.6" stroke="#1a1a1a" stroke-width="1.1" fill="none"/>
<text x="25.6" y="697.2" font-family="Liberation Sans, sans-serif" font-size="7.3" font-weight="bold" text-anchor="end" fill="#111" stroke="#111" stroke-width="0.15">0</text>
<text x="25.6" y="651.45" font-family="Liberation Sans, sans-serif" font-size="7.3" font-weight="bold" text-anchor="end" fill="#111" stroke="#111" stroke-width="0.15">25</text>
<text x="25.6" y="605.7" font-family="Liberation Sans, sans-serif" font-size="7.3" font-weight="bold" text-anchor="end" fill="#111" stroke="#111" stroke-width="0.15">50</text>
<text x="25.6" y="559.95" font-family="Liberation Sans, sans-serif" font-size="7.3" font-weight="bold" text-anchor="end" fill="#111" stroke="#111" stroke-width="0.15">75</text>
<text x="25.6" y="514.2" font-family="Liberation Sans, sans-serif" font-size="7.3" font-weight="bold" text-anchor="end" fill="#111" stroke="#111" stroke-width="0.15">100</text>
<text x="31.2" y="705.9" font-family="Liberation Sans, sans-serif" font-size="7.3" font-weight="bold" text-anchor="middle" fill="#111" stroke="#111" stroke-width="0.15">0</text>
<text x="82.25" y="705.9" font-family="Liberation Sans, sans-serif" font-size="7.3" font-weight="bold" text-anchor="middle" fill="#111" stroke="#111" stroke-width="0.15">24</text>
<text x="133.3" y="705.9" font-family="Liberation Sans, sans-serif" font-size="7.3" font-weight="bold" text-anchor="middle" fill="#111" stroke="#111" stroke-width="0.15">48</text>
<text x="184.34" y="705.9" font-family="Liberation Sans, sans-serif" font-size="7.3" font-weight="bold" text-anchor="middle" fill="#111" stroke="#111" stroke-width="0.15">72</text>
<text x="235.39" y="705.9" font-family="Liberation Sans, sans-serif" font-size="7.3" font-weight="bold" text-anchor="middle" fill="#111" stroke="#111" stroke-width="0.15">96</text>
<text x="141.8" y="715.6" font-family="Liberation Sans, sans-serif" font-size="9.45" text-anchor="middle" fill="#111" stroke="#111" stroke-width="0.3">Time Course [h]</text>
<text transform="translate(11.9 606.7) rotate(-90)" font-family="Liberation Sans, sans-serif" font-size="9.2" text-anchor="middle" fill="#111" stroke="#111" stroke-width="0.3">Mean Viability [%]</text>
<text x="31.8" y="505.7" font-family="Liberation Sans, sans-serif" font-size="12" fill="#111" stroke="#111" stroke-width="0.3">E</text>
<text x="213" y="578.75" font-family="Liberation Serif, serif" font-size="11.0" fill="#111" stroke="#111" stroke-width="0.4">JVM-2</text>
<rect x="34.3" y="644.2" width="63.4" height="46.2" fill="#fff" stroke="#1a1a1a" stroke-width="1.2"/>
<path d="M40.7 656.4H45.2M54.2 656.4H57.2" stroke="#999" stroke-width="0.9" stroke-dasharray="1 1" fill="none"/>
<rect x="47.04" y="653.74" width="5.32" height="5.32" fill="#000" stroke="none" stroke-width="0"/>
<text x="60" y="658.7" font-family="Liberation Sans, sans-serif" font-size="6.5" letter-spacing="-0.2" font-weight="bold" fill="#111" stroke="#111" stroke-width="0.12">PG CTRL</text>
<path d="M40.7 666.2H45.2M54.2 666.2H57.2" stroke="#999" stroke-width="0.9" stroke-dasharray="1 1" fill="none"/>
<polygon points="49.7,662.78 52.93,668.48 46.47,668.48" fill="#000" stroke="none" stroke-width="0" stroke-linejoin="miter"/>
<text x="60" y="668.5" font-family="Liberation Sans, sans-serif" font-size="6.5" letter-spacing="-0.2" font-weight="bold" fill="#111" stroke="#111" stroke-width="0.12">MEL 10<tspan font-size="4.6" dy="-2.5">-9</tspan><tspan dy="2.5"> M</tspan></text>
<path d="M40.7 676H45.2M54.2 676H57.2" stroke="#999" stroke-width="0.9" stroke-dasharray="1 1" fill="none"/>
<circle cx="49.7" cy="676" r="2.94" fill="#000" stroke="none" stroke-width="0"/>
<text x="60" y="678.3" font-family="Liberation Sans, sans-serif" font-size="6.5" letter-spacing="-0.2" font-weight="bold" fill="#111" stroke="#111" stroke-width="0.12">MEL 10<tspan font-size="4.6" dy="-2.5">-8</tspan><tspan dy="2.5"> M</tspan></text>
<path d="M40.7 685.8H45.2M54.2 685.8H57.2" stroke="#999" stroke-width="0.9" stroke-dasharray="1 1" fill="none"/>
<polygon points="49.7,682.19 53.31,685.8 49.7,689.41 46.09,685.8" fill="#000" stroke="none" stroke-width="0"/>
<text x="60" y="688.1" font-family="Liberation Sans, sans-serif" font-size="6.5" letter-spacing="-0.2" font-weight="bold" fill="#111" stroke="#111" stroke-width="0.12">MEL 10<tspan font-size="4.6" dy="-2.5">-7</tspan><tspan dy="2.5"> M</tspan></text>
<polyline points="301.5,679.65 352.67,669.54 403.84,647 455,618.23 506.17,531.54" fill="none" stroke="#3a3a3a" stroke-width="0.9"/>
<polyline points="301.5,679.65 352.67,666.43 403.84,653.99 455,674.52 506.17,598.01" fill="none" stroke="#3a3a3a" stroke-width="0.9"/>
<polyline points="301.5,679.65 352.67,684.32 403.84,686.65 455,684.7 506.17,689.29" fill="none" stroke="#3a3a3a" stroke-width="0.9"/>
<polyline points="301.5,679.65 352.67,684.32 403.84,693.65 455,695.2 506.17,695.2" fill="none" stroke="#3a3a3a" stroke-width="0.9"/>
<path d="M352.67 667.21V671.88" stroke="#666" stroke-width="0.9" fill="none"/>
<path d="M349.17 667.21H356.17M349.17 671.88H356.17" stroke="#333" stroke-width="1" fill="none"/>
<path d="M403.84 641.55V652.44" stroke="#666" stroke-width="0.9" fill="none"/>
<path d="M400.34 641.55H407.34M400.34 652.44H407.34" stroke="#333" stroke-width="1" fill="none"/>
<path d="M455 612.01V624.45" stroke="#666" stroke-width="0.9" fill="none"/>
<path d="M451.5 612.01H458.5M451.5 624.45H458.5" stroke="#333" stroke-width="1" fill="none"/>
<path d="M506.17 524.15V538.92" stroke="#666" stroke-width="0.9" fill="none"/>
<path d="M502.67 524.15H509.67M502.67 538.92H509.67" stroke="#333" stroke-width="1" fill="none"/>
<path d="M352.67 660.99V671.88" stroke="#666" stroke-width="0.9" fill="none"/>
<path d="M349.17 660.99H356.17M349.17 671.88H356.17" stroke="#333" stroke-width="1" fill="none"/>
<path d="M403.84 650.88V657.1" stroke="#666" stroke-width="0.9" fill="none"/>
<path d="M400.34 650.88H407.34M400.34 657.1H407.34" stroke="#333" stroke-width="1" fill="none"/>
<path d="M455 672.96V676.07" stroke="#666" stroke-width="0.9" fill="none"/>
<path d="M451.5 672.96H458.5M451.5 676.07H458.5" stroke="#333" stroke-width="1" fill="none"/>
<path d="M506.17 573.13V622.89" stroke="#666" stroke-width="0.9" fill="none"/>
<path d="M502.67 573.13H509.67M502.67 622.89H509.67" stroke="#333" stroke-width="1" fill="none"/>
<path d="M352.67 682.76V685.87" stroke="#666" stroke-width="0.9" fill="none"/>
<path d="M349.17 682.76H356.17M349.17 685.87H356.17" stroke="#333" stroke-width="1" fill="none"/>
<path d="M403.84 685.09V688.2" stroke="#666" stroke-width="0.9" fill="none"/>
<path d="M400.34 685.09H407.34M400.34 688.2H407.34" stroke="#333" stroke-width="1" fill="none"/>
<path d="M455 680.43V688.98" stroke="#666" stroke-width="0.9" fill="none"/>
<path d="M451.5 680.43H458.5M451.5 688.98H458.5" stroke="#333" stroke-width="1" fill="none"/>
<path d="M506.17 687.74V690.85" stroke="#666" stroke-width="0.9" fill="none"/>
<path d="M502.67 687.74H509.67M502.67 690.85H509.67" stroke="#333" stroke-width="1" fill="none"/>
<rect x="299.1" y="677.25" width="4.8" height="4.8" fill="#fff" stroke="#111" stroke-width="1.3"/>
<rect x="350.27" y="667.14" width="4.8" height="4.8" fill="#fff" stroke="#111" stroke-width="1.3"/>
<rect x="401.44" y="644.6" width="4.8" height="4.8" fill="#fff" stroke="#111" stroke-width="1.3"/>
<rect x="452.6" y="615.83" width="4.8" height="4.8" fill="#fff" stroke="#111" stroke-width="1.3"/>
<rect x="503.77" y="529.14" width="4.8" height="4.8" fill="#fff" stroke="#111" stroke-width="1.3"/>
<polygon points="301.5,676.65 304.4,681.65 298.6,681.65" fill="#fff" stroke="#111" stroke-width="1.3" stroke-linejoin="miter"/>
<polygon points="352.67,663.43 355.57,668.43 349.77,668.43" fill="#fff" stroke="#111" stroke-width="1.3" stroke-linejoin="miter"/>
<polygon points="403.84,650.99 406.74,655.99 400.94,655.99" fill="#fff" stroke="#111" stroke-width="1.3" stroke-linejoin="miter"/>
<polygon points="455,671.52 457.9,676.52 452.1,676.52" fill="#fff" stroke="#111" stroke-width="1.3" stroke-linejoin="miter"/>
<polygon points="506.17,595.01 509.07,600.01 503.27,600.01" fill="#fff" stroke="#111" stroke-width="1.3" stroke-linejoin="miter"/>
<circle cx="301.5" cy="679.65" r="2.6" fill="#fff" stroke="#111" stroke-width="1.3"/>
<circle cx="352.67" cy="684.32" r="2.6" fill="#fff" stroke="#111" stroke-width="1.3"/>
<circle cx="403.84" cy="686.65" r="2.6" fill="#fff" stroke="#111" stroke-width="1.3"/>
<circle cx="455" cy="684.7" r="2.6" fill="#fff" stroke="#111" stroke-width="1.3"/>
<circle cx="506.17" cy="689.29" r="2.6" fill="#fff" stroke="#111" stroke-width="1.3"/>
<polygon points="301.5,676.55 304.6,679.65 301.5,682.75 298.4,679.65" fill="#fff" stroke="#111" stroke-width="1.3"/>
<polygon points="352.67,681.22 355.77,684.32 352.67,687.42 349.57,684.32" fill="#fff" stroke="#111" stroke-width="1.3"/>
<polygon points="403.84,690.55 406.94,693.65 403.84,696.75 400.74,693.65" fill="#fff" stroke="#111" stroke-width="1.3"/>
<polygon points="455,692.1 458.1,695.2 455,698.3 451.9,695.2" fill="#fff" stroke="#111" stroke-width="1.3"/>
<polygon points="506.17,692.1 509.27,695.2 506.17,698.3 503.07,695.2" fill="#fff" stroke="#111" stroke-width="1.3"/>
<rect x="301.5" y="508.4" width="213.5" height="186.8" fill="none" stroke="#1a1a1a" stroke-width="1.35"/>
<path d="M297.7 695.2H301.5M297.7 664.1H301.5M297.7 633H301.5M297.7 601.9H301.5M297.7 570.8H301.5M297.7 539.7H301.5M297.7 508.6H301.5M299.3 679.65H301.5M299.3 648.55H301.5M299.3 617.45H301.5M299.3 586.35H301.5M299.3 555.25H301.5M299.3 524.15H301.5M301.5 695.2V698.8M352.67 695.2V698.8M403.84 695.2V698.8M455 695.2V698.8M506.17 695.2V698.8M327.08 695.2V697.2M378.25 695.2V697.2M429.42 695.2V697.2M480.59 695.2V697.2" stroke="#1a1a1a" stroke-width="1.1" fill="none"/>
<text x="295.9" y="697.8" font-family="Liberation Sans, sans-serif" font-size="7.3" font-weight="bold" text-anchor="end" fill="#111" stroke="#111" stroke-width="0.15">0</text>
<text x="295.9" y="666.7" font-family="Liberation Sans, sans-serif" font-size="7.3" font-weight="bold" text-anchor="end" fill="#111" stroke="#111" stroke-width="0.15">4</text>
<text x="295.9" y="635.6" font-family="Liberation Sans, sans-serif" font-size="7.3" font-weight="bold" text-anchor="end" fill="#111" stroke="#111" stroke-width="0.15">8</text>
<text x="295.9" y="604.5" font-family="Liberation Sans, sans-serif" font-size="7.3" font-weight="bold" text-anchor="end" fill="#111" stroke="#111" stroke-width="0.15">12</text>
<text x="295.9" y="573.4" font-family="Liberation Sans, sans-serif" font-size="7.3" font-weight="bold" text-anchor="end" fill="#111" stroke="#111" stroke-width="0.15">16</text>
<text x="295.9" y="542.3" font-family="Liberation Sans, sans-serif" font-size="7.3" font-weight="bold" text-anchor="end" fill="#111" stroke="#111" stroke-width="0.15">20</text>
<text x="295.9" y="511.2" font-family="Liberation Sans, sans-serif" font-size="7.3" font-weight="bold" text-anchor="end" fill="#111" stroke="#111" stroke-width="0.15">24</text>
<text x="301.5" y="706.5" font-family="Liberation Sans, sans-serif" font-size="7.3" font-weight="bold" text-anchor="middle" fill="#111" stroke="#111" stroke-width="0.15">0</text>
<text x="352.67" y="706.5" font-family="Liberation Sans, sans-serif" font-size="7.3" font-weight="bold" text-anchor="middle" fill="#111" stroke="#111" stroke-width="0.15">24</text>
<text x="403.84" y="706.5" font-family="Liberation Sans, sans-serif" font-size="7.3" font-weight="bold" text-anchor="middle" fill="#111" stroke="#111" stroke-width="0.15">48</text>
<text x="455" y="706.5" font-family="Liberation Sans, sans-serif" font-size="7.3" font-weight="bold" text-anchor="middle" fill="#111" stroke="#111" stroke-width="0.15">72</text>
<text x="506.17" y="706.5" font-family="Liberation Sans, sans-serif" font-size="7.3" font-weight="bold" text-anchor="middle" fill="#111" stroke="#111" stroke-width="0.15">96</text>
<text x="412.5" y="716" font-family="Liberation Sans, sans-serif" font-size="9.45" text-anchor="middle" fill="#111" stroke="#111" stroke-width="0.3">Time Course [h]</text>
<text transform="translate(286 614) rotate(-90)" font-family="Liberation Sans, sans-serif" font-size="9.3" text-anchor="middle" fill="#111" stroke="#111" stroke-width="0.3">Cell Count [x 100,000]</text>
<text x="302.8" y="507" font-family="Liberation Sans, sans-serif" font-size="12" fill="#111" stroke="#111" stroke-width="0.3">F</text>
<text x="304.2" y="579.1" font-family="Liberation Serif, serif" font-size="11.0" fill="#111" stroke="#111" stroke-width="0.4">JVM-2</text>
<rect x="305.4" y="513.5" width="63.4" height="45.7" fill="#fff" stroke="#1a1a1a" stroke-width="1.2"/>
<path d="M311.4 522.2H315.8M324.4 522.2H328" stroke="#333" stroke-width="1" fill="none"/>
<rect x="317.6" y="519.8" width="4.8" height="4.8" fill="#fff" stroke="#111" stroke-width="1.3"/>
<text x="330.8" y="524.5" font-family="Liberation Sans, sans-serif" font-size="6.5" letter-spacing="-0.2" font-weight="bold" fill="#111" stroke="#111" stroke-width="0.12">PG CTRL</text>
<path d="M311.4 531.7H315.8M324.4 531.7H328" stroke="#333" stroke-width="1" fill="none"/>
<polygon points="320,528.7 322.9,533.7 317.1,533.7" fill="#fff" stroke="#111" stroke-width="1.3" stroke-linejoin="miter"/>
<text x="330.8" y="534" font-family="Liberation Sans, sans-serif" font-size="6.5" letter-spacing="-0.2" font-weight="bold" fill="#111" stroke="#111" stroke-width="0.12">MEL 10<tspan font-size="4.6" dy="-2.5">-9</tspan><tspan dy="2.5"> M</tspan></text>
<path d="M311.4 541.2H315.8M324.4 541.2H328" stroke="#333" stroke-width="1" fill="none"/>
<circle cx="320" cy="541.2" r="2.6" fill="#fff" stroke="#111" stroke-width="1.3"/>
<text x="330.8" y="543.5" font-family="Liberation Sans, sans-serif" font-size="6.5" letter-spacing="-0.2" font-weight="bold" fill="#111" stroke="#111" stroke-width="0.12">MEL 10<tspan font-size="4.6" dy="-2.5">-8</tspan><tspan dy="2.5"> M</tspan></text>
<path d="M311.4 550.7H315.8M324.4 550.7H328" stroke="#333" stroke-width="1" fill="none"/>
<polygon points="320,547.6 323.1,550.7 320,553.8 316.9,550.7" fill="#fff" stroke="#111" stroke-width="1.3"/>
<text x="330.8" y="553" font-family="Liberation Sans, sans-serif" font-size="6.5" letter-spacing="-0.2" font-weight="bold" fill="#111" stroke="#111" stroke-width="0.12">MEL 10<tspan font-size="4.6" dy="-2.5">-7</tspan><tspan dy="2.5"> M</tspan></text>
</svg>
</body></html>
